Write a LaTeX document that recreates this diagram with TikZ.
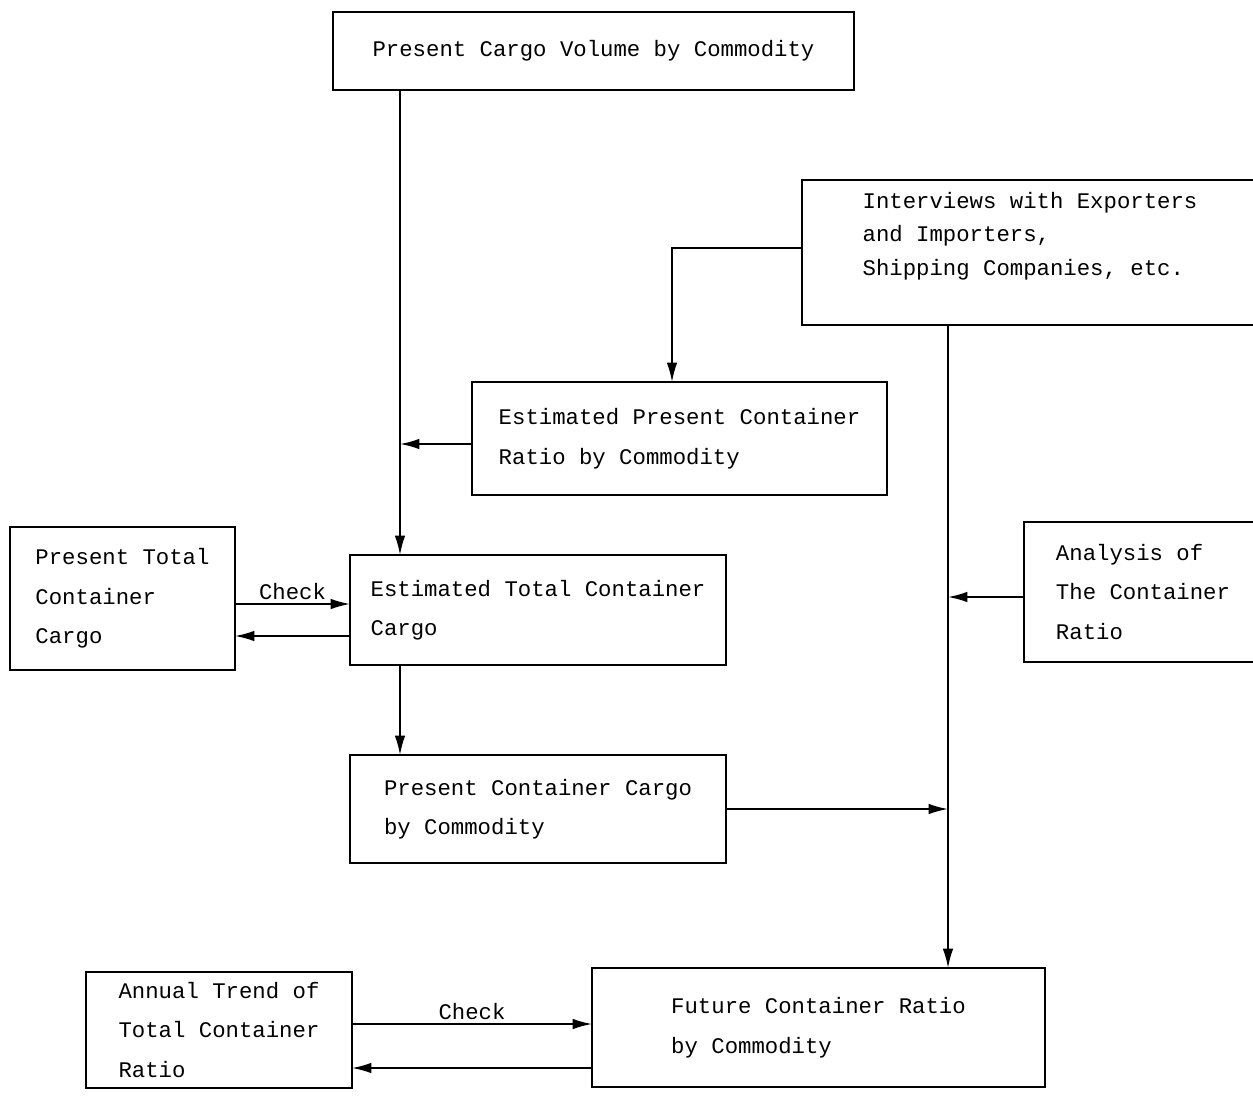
\documentclass[tikz,border=0pt]{standalone}
\usepackage{fontspec}
\setmonofont{Liberation Mono}
\usetikzlibrary{arrows.meta}

\tikzset{
  box/.style={draw,line width=1.2pt,align=left,inner sep=0pt,outer sep=0pt,
    font=\ttfamily\fontsize{12.7}{22.5}\selectfont},
  flow/.style={line width=1pt,-{Latex[length=11pt,width=6pt]}},
  chk/.style={font=\ttfamily\fontsize{12.7}{15}\selectfont,inner sep=2pt}
}

\begin{document}
\begin{tikzpicture}[x=0.02cm,y=-0.02cm]
\useasboundingbox (0,0) rectangle (1253,1098);

% boxes
\node (cargo) at (593.5,51) [box,minimum width=10.42cm,minimum height=1.56cm] {Present Cargo Volume by Commodity};
\node (interv) at (1030,252.5) [box,minimum width=9.12cm,minimum height=2.9cm,
  font=\ttfamily\fontsize{12.7}{19}\selectfont,text depth=0.75cm] {Interviews with Exporters\\and Importers,\\Shipping Companies, etc.};
\node (estpr) at (679.5,438.5) [box,minimum width=8.3cm,minimum height=2.26cm] {Estimated Present Container\\Ratio by Commodity};
\node (prestot) at (122.5,598.5) [box,minimum width=4.5cm,minimum height=2.86cm] {Present Total\\Container\\Cargo};
\node (esttot) at (538,610) [box,minimum width=7.52cm,minimum height=2.2cm] {Estimated Total Container\\Cargo};
\node (analysis) at (1143,592) [box,minimum width=4.76cm,minimum height=2.8cm] {Analysis of\\The Container\\Ratio};
\node (prescc) at (538,809) [box,minimum width=7.52cm,minimum height=2.16cm] {Present Container Cargo\\by Commodity};
\node (annual) at (219,1030) [box,minimum width=5.32cm,minimum height=2.32cm] {Annual Trend of\\Total Container\\Ratio};
\node (future) at (818.5,1027.5) [box,minimum width=9.06cm,minimum height=2.38cm] {Future Container Ratio\\by Commodity};

% trunk lines
\coordinate (lx) at (400,0);
\coordinate (rx) at (948,0);

\draw[flow] (cargo.south -| lx) -- (esttot.north -| lx);
\draw[flow] (estpr.west |- 0,444) -- (lx |- 0,444);
\draw[flow] (interv.west |- 0,248) -| (estpr.north -| 672,0);
\draw[flow] (interv.south -| rx) -- (future.north -| rx);
\draw[flow] (analysis.west |- 0,597) -- (rx |- 0,597);
\draw[flow] (prescc.east) -- (prescc.east -| rx);
\draw[flow] (esttot.south -| lx) -- (prescc.north -| lx);

% check loops
\draw[flow] (prestot.east |- 0,604) -- (esttot.west |- 0,604) node[chk,midway,above] {Check};
\draw[flow] (esttot.west |- 0,636) -- (prestot.east |- 0,636);
\draw[flow] (annual.east |- 0,1024) -- (future.west |- 0,1024) node[chk,midway,above] {Check};
\draw[flow] (future.west |- 0,1068) -- (annual.east |- 0,1068);
\end{tikzpicture}
\end{document}
